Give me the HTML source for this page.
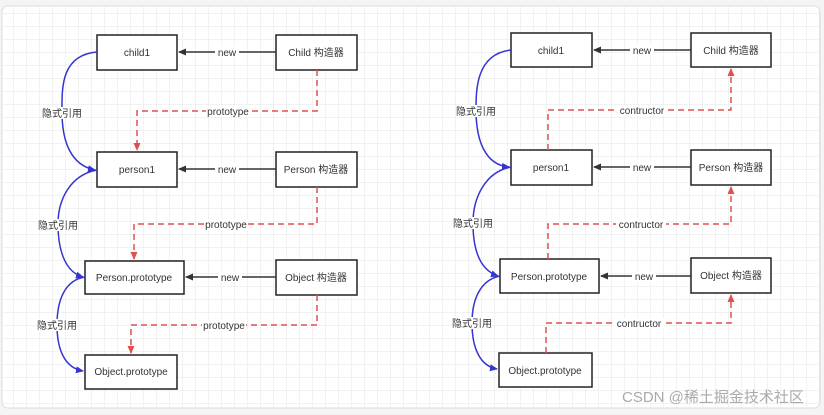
<!DOCTYPE html>
<html><head><meta charset="utf-8"><style>
html,body{margin:0;padding:0;background:#f4f4f4;}
svg{display:block}
text{font-family:"Liberation Sans","Noto Sans CJK SC",sans-serif;font-size:10px;fill:#333;}
</style></head><body>
<svg width="824" height="415" viewBox="0 0 824 415" xmlns="http://www.w3.org/2000/svg">
<defs>
<pattern id="g" width="13" height="13" patternUnits="userSpaceOnUse">
<path d="M13 0H0V13" fill="none" stroke="#e6e6e6" stroke-width="1"/>
</pattern>
<marker id="ak" markerWidth="8" markerHeight="8" refX="7" refY="4" orient="auto" markerUnits="userSpaceOnUse"><path d="M0,0.5 L8,4 L0,7.5 Z" fill="#333"/></marker>
<marker id="ar" markerWidth="8" markerHeight="8" refX="7" refY="4" orient="auto" markerUnits="userSpaceOnUse"><path d="M0,0.5 L8,4 L0,7.5 Z" fill="#e05050"/></marker>
<marker id="ab" markerWidth="8" markerHeight="8" refX="7" refY="4" orient="auto" markerUnits="userSpaceOnUse"><path d="M0,0.5 L8,4 L0,7.5 Z" fill="#3535d0"/></marker>
</defs>
<rect x="2" y="6" width="818" height="402" rx="6" fill="#fff" stroke="#ddd"/>
<rect x="2" y="6" width="818" height="402" rx="6" fill="url(#g)"/>

<g fill="#fff" stroke="#222" stroke-width="1.5">
<rect x="97" y="35" width="80" height="35"/>
<rect x="276" y="35" width="81" height="35"/>
<rect x="97" y="152" width="80" height="35"/>
<rect x="276" y="152" width="81" height="35"/>
<rect x="85" y="261" width="99" height="33"/>
<rect x="276" y="260" width="81" height="35"/>
<rect x="85" y="355" width="92" height="34"/>

<rect x="511" y="33" width="81" height="34"/>
<rect x="691" y="33" width="80" height="34"/>
<rect x="511" y="150" width="81" height="35"/>
<rect x="691" y="150" width="80" height="35"/>
<rect x="500" y="259" width="99" height="34"/>
<rect x="691" y="258" width="80" height="35"/>
<rect x="499" y="353" width="93" height="34"/>
</g>

<g text-anchor="middle">
<text x="137" y="56">child1</text>
<text x="316" y="56">Child 构造器</text>
<text x="137" y="173">person1</text>
<text x="316" y="173">Person 构造器</text>
<text x="134" y="281">Person.prototype</text>
<text x="316" y="281">Object 构造器</text>
<text x="131" y="375">Object.prototype</text>

<text x="551" y="54">child1</text>
<text x="731" y="54">Child 构造器</text>
<text x="551" y="171">person1</text>
<text x="731" y="171">Person 构造器</text>
<text x="549" y="280">Person.prototype</text>
<text x="731" y="279">Object 构造器</text>
<text x="545" y="374">Object.prototype</text>
</g>

<g stroke="#333" stroke-width="1.5" fill="none" marker-end="url(#ak)">
<path d="M276 52H179"/><path d="M276 169H179"/><path d="M276 277H186"/>
<path d="M691 50H594"/><path d="M691 167H594"/><path d="M691 276H601"/>
</g>
<g text-anchor="middle">
<rect x="215" y="46" width="24" height="11" fill="#fff"/><text x="227" y="56">new</text>
<rect x="215" y="163" width="24" height="11" fill="#fff"/><text x="227" y="173">new</text>
<rect x="218" y="271" width="24" height="11" fill="#fff"/><text x="230" y="281">new</text>
<rect x="630" y="44" width="24" height="11" fill="#fff"/><text x="642" y="54">new</text>
<rect x="630" y="161" width="24" height="11" fill="#fff"/><text x="642" y="171">new</text>
<rect x="632" y="271" width="24" height="11" fill="#fff"/><text x="644" y="280">new</text>
</g>

<g stroke="#e05050" stroke-width="1.5" fill="none" stroke-dasharray="6,4" marker-end="url(#ar)">
<path d="M317 70V111H137V150"/>
<path d="M317 187V224H134V259"/>
<path d="M317 295V325H131V353"/>
<path d="M548 150V110H731V69"/>
<path d="M548 259V224H731V187"/>
<path d="M546 353V323H731V295"/>
</g>
<g text-anchor="middle">
<rect x="206" y="106" width="44" height="11" fill="#fff"/><text x="228" y="115">prototype</text>
<rect x="204" y="219" width="44" height="11" fill="#fff"/><text x="226" y="228">prototype</text>
<rect x="202" y="320" width="44" height="11" fill="#fff"/><text x="224" y="329">prototype</text>
<rect x="617" y="105" width="50" height="11" fill="#fff"/><text x="642" y="114">contructor</text>
<rect x="616" y="219" width="50" height="11" fill="#fff"/><text x="641" y="228">contructor</text>
<rect x="614" y="318" width="50" height="11" fill="#fff"/><text x="639" y="327">contructor</text>
</g>

<g stroke="#3535d0" stroke-width="1.5" fill="none" marker-end="url(#ab)">
<path d="M97 52C60 55 62 90 62 112C62 140 70 165 95 170"/>
<path d="M97 170C70 175 58 200 58 224C58 250 65 272 83 277"/>
<path d="M85 277C65 280 57 300 57 325C57 350 65 368 83 371"/>
<path d="M511 50C476 54 476 90 476 110C476 140 485 165 509 167"/>
<path d="M511 167C485 172 473 198 473 223C473 250 480 270 498 276"/>
<path d="M500 276C480 280 472 300 472 323C472 348 480 366 497 369"/>
</g>
<g text-anchor="middle">
<rect x="42" y="107" width="40" height="12" fill="#fff"/><text x="62" y="117">隐式引用</text>
<rect x="38" y="219" width="40" height="12" fill="#fff"/><text x="58" y="229">隐式引用</text>
<rect x="37" y="319" width="40" height="12" fill="#fff"/><text x="57" y="329">隐式引用</text>
<rect x="456" y="105" width="40" height="12" fill="#fff"/><text x="476" y="115">隐式引用</text>
<rect x="453" y="217" width="40" height="12" fill="#fff"/><text x="473" y="227">隐式引用</text>
<rect x="452" y="317" width="40" height="12" fill="#fff"/><text x="472" y="327">隐式引用</text>
</g>
<text x="622" y="402" style="font-size:15px;fill:#aaa">CSDN @稀土掘金技术社区</text>
</svg>
</body></html>
